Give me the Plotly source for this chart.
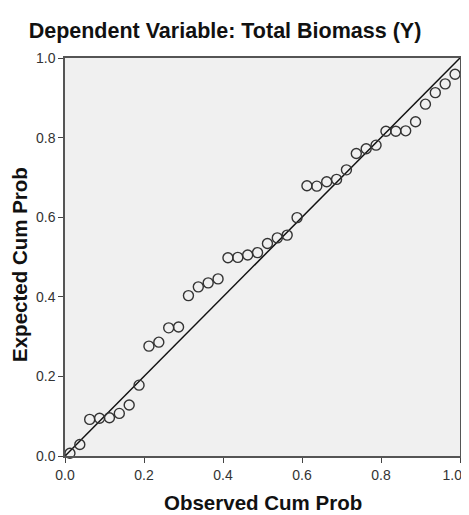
import plotly.graph_objects as go

observed = [0.0125, 0.0375, 0.0625, 0.0875, 0.1125, 0.1375, 0.1625, 0.1875,
            0.2125, 0.2375, 0.2625, 0.2875, 0.3125, 0.3375, 0.3625, 0.3875,
            0.4125, 0.4375, 0.4625, 0.4875, 0.5125, 0.5375, 0.5625, 0.5875,
            0.6125, 0.6375, 0.6625, 0.6875, 0.7125, 0.7375, 0.7625, 0.7875,
            0.8125, 0.8375, 0.8625, 0.8875, 0.9125, 0.9375, 0.9625, 0.9875]
expected = [0.007, 0.029, 0.092, 0.095, 0.096, 0.107, 0.128, 0.178,
            0.276, 0.286, 0.322, 0.324, 0.403, 0.425, 0.435, 0.445,
            0.498, 0.499, 0.505, 0.511, 0.534, 0.548, 0.555, 0.599,
            0.679, 0.678, 0.689, 0.695, 0.719, 0.760, 0.772, 0.781,
            0.816, 0.816, 0.817, 0.840, 0.884, 0.913, 0.935, 0.959]
ref_line = [0.0, 1.0]
tick_vals = [0.0, 0.2, 0.4, 0.6, 0.8, 1.0]
tick_text = ["0.0", "0.2", "0.4", "0.6", "0.8", "1.0"]
# last x label padded so it stays inside the window's right edge
x_tick_text = ["0.0", "0.2", "0.4", "0.6", "0.8", "1.0\u00a0\u00a0\u00a0\u00a0"]

title_text = "Dependent Variable: Total Biomass (Y)"
x_title = "Observed Cum Prob"
y_title = "Expected Cum Prob"

W, H = 461, 507  # page body adds an 8px offset

fig = go.Figure()
fig.add_trace(go.Scatter(x=ref_line, y=ref_line, mode="lines",
                         line=dict(color="#111111", width=1.5),
                         hoverinfo="skip", showlegend=False))
fig.add_trace(go.Scatter(x=observed, y=expected, mode="markers",
                         marker=dict(symbol="circle-open", size=10,
                                     color="#333333", line=dict(width=1.4, color="#333333")),
                         showlegend=False, cliponaxis=False))

axis_common = dict(range=[0, 1], tickvals=tick_vals,
                   ticks="outside", ticklen=5, tickwidth=1.2, tickcolor="#444444",
                   showgrid=False, zeroline=False, showline=True, linecolor="#555555",
                   linewidth=1.5, mirror=True, ticklabeloverflow="allow",
                   tickfont=dict(family="Liberation Sans, Arial", size=14, color="#333333"),
                   fixedrange=True, automargin=False)

fig.update_layout(
    width=W, height=H,
    margin=dict(l=57, r=9, t=50, b=59),
    paper_bgcolor="white", plot_bgcolor="#f0f0f0",
    xaxis=dict(axis_common, ticktext=x_tick_text),
    yaxis=dict(axis_common, ticktext=tick_text),
    title=dict(text="<b>%s</b>" % title_text, x=217 / W, xanchor="center", xref="container",
               y=1 - 22 / H, yanchor="middle", yref="container",
               font=dict(family="Liberation Sans, Arial", size=21.5, color="#111111")),
    annotations=[
        dict(text="<b>%s</b>" % x_title, x=0.5, y=-47 / 398, xref="paper", yref="paper",
             xanchor="center", yanchor="middle", showarrow=False,
             font=dict(family="Liberation Sans, Arial", size=20.5, color="#111111")),
        dict(text="<b>%s</b>" % y_title, x=-45 / 395, y=0.48, xref="paper", yref="paper",
             xanchor="center", yanchor="middle", showarrow=False, textangle=-90,
             font=dict(family="Liberation Sans, Arial", size=20.5, color="#111111")),
    ],
)

fig.write_html("out.html")
